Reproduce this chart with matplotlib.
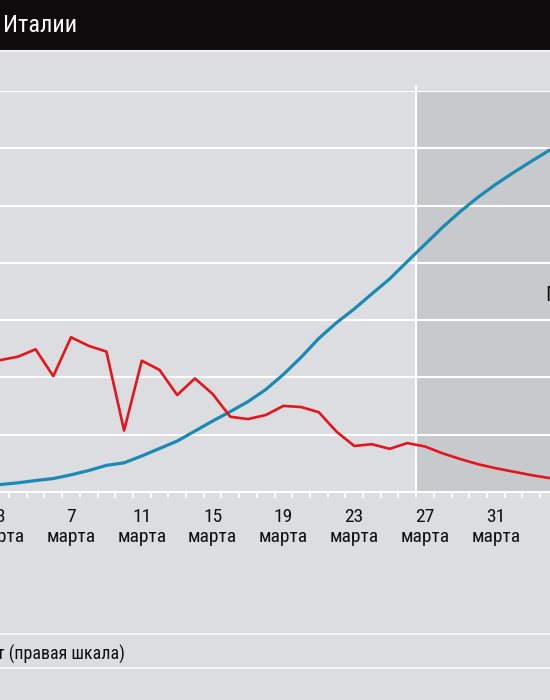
import numpy as np
import matplotlib.pyplot as plt
from matplotlib import font_manager as fm
from matplotlib.patches import Rectangle
from matplotlib.lines import Line2D

# %%
# data (Italy, March)
days = list(range(3, 35))
cases_k = [2.5, 3.1, 3.9, 4.6, 5.9, 7.4, 9.2, 10.1, 12.5, 15.1, 17.7, 21.2, 24.7,
           28.0, 31.5, 35.7, 41.0, 47.0, 53.6, 59.1, 63.9, 69.2, 74.4, 80.5, 86.5,
           92.5, 98.0, 103.0, 107.5, 111.6, 115.5, 119.3]
growth_pct = [23.0, 23.6, 24.9, 20.2, 27.0, 25.5, 24.5, 10.7, 22.9, 21.3, 16.9, 19.8, 17.1,
              13.1, 12.7, 13.4, 15.0, 14.8, 13.9, 10.5, 8.0, 8.3, 7.5, 8.5, 7.9,
              6.7, 5.7, 4.8, 4.1, 3.5, 2.9, 2.4]
label_days = [3, 7, 11, 15, 19, 23, 27, 31]
tick_labels = [str(d) + '\nмарта' for d in label_days]
forecast_start = 26.5

# %%
# pick a narrow sans if there is one
narrow = None
for f in fm.fontManager.ttflist:
    if f.name in ('Roboto Condensed', 'Liberation Sans Narrow', 'Open Sans Condensed'):
        narrow = f.name
        break
    if f.stretch in ('condensed', 'semi-condensed', 'extra-condensed', 550, 600, 700) \
            and f.name in ('Roboto', 'Noto Sans', 'Open Sans', 'DejaVu Sans') and narrow is None:
        narrow = f.name
        plt.rcParams['font.stretch'] = 'condensed'
if narrow is None:
    narrow = 'Roboto'
plt.rcParams['font.family'] = [narrow, 'DejaVu Sans']
NARROW_OK = narrow != 'Roboto' or plt.rcParams['font.stretch'] == 'condensed'

BG = '#dcdde0'
SHADE = '#c8c9cc'
BLUE = '#1b8ab3'
RED = '#e3151d'

W, H = 550, 700
fig = plt.figure(figsize=(5.5, 7), dpi=100, facecolor=BG)

# black title band
fig.patches.append(Rectangle((0, 1 - 50 / H), 1, 50 / H, transform=fig.transFigure,
                             facecolor='#0e0b0c', edgecolor='none', zorder=0))
fig.add_artist(Line2D([0, 1], [1 - 51 / H] * 2, color='#f0f0f2', lw=1.5))
fig.text(3 / W, 1 - 26 / H, 'Италии', color='white', fontsize=17.5 if NARROW_OK else 16,
         va='center', ha='left')

# %%
bottom = (H - 491.7) / H
top = (H - 91.3) / H
ax = fig.add_axes([0, bottom, 1, top - bottom])
ax.set_facecolor(BG)
ax2 = ax.twinx()

ax.axvspan(forecast_start, 40, color=SHADE, lw=0, zorder=0)
for g in range(20, 141, 20):
    ax.axhline(g, color='white', lw=1.5, zorder=1)
ax.axvline(forecast_start, ymin=0, ymax=1.01, color='white', lw=1.5, zorder=1, clip_on=False)

ax.plot(days, cases_k, color=BLUE, lw=2.3, zorder=3)
ax2.plot(days, growth_pct, color=RED, lw=1.9, zorder=3)

for a in (ax, ax2):
    for s in ('left', 'right', 'top'):
        a.spines[s].set_visible(False)
ax2.spines['bottom'].set_visible(False)
ax.spines['bottom'].set_color('white')
ax.spines['bottom'].set_linewidth(1.5)
ax.set_yticks([])
ax2.set_yticks([])

ax.set_xticks(label_days)
ax.set_xticklabels(tick_labels, fontsize=14 if NARROW_OK else 13, linespacing=1.12,
                   color='#111111')
ax.set_xticks([d + 0.5 for d in range(2, 34)], minor=True)
ax.tick_params(axis='x', which='major', length=0, pad=12)
ax.tick_params(axis='x', which='minor', length=4, width=1.3, color='white', direction='out')

# limits last, set_xticks widens them
ax.set_xlim(2.99, 34.06)
ax.set_ylim(0, 140)
ax2.set_ylim(0, 70)

# forecast label, cut off at the right edge
fig.text(545 / W, 1 - 295 / H, 'Прогноз', fontsize=15, color='#111111', va='center', ha='left')

# %%
# legend strip at the bottom
fig.add_artist(Line2D([0, 1], [1 - 634 / H] * 2, color='#f2f2f4', lw=1.5))
fig.add_artist(Line2D([0, 1], [1 - 668 / H] * 2, color='#f2f2f4', lw=1.5))
fig.text(-3 / W, 1 - 654 / H, 'т (правая шкала)', fontsize=13 if NARROW_OK else 11.5,
         color='#111111', va='center', ha='left')

fig.savefig('out.png', dpi=100, facecolor=BG)
